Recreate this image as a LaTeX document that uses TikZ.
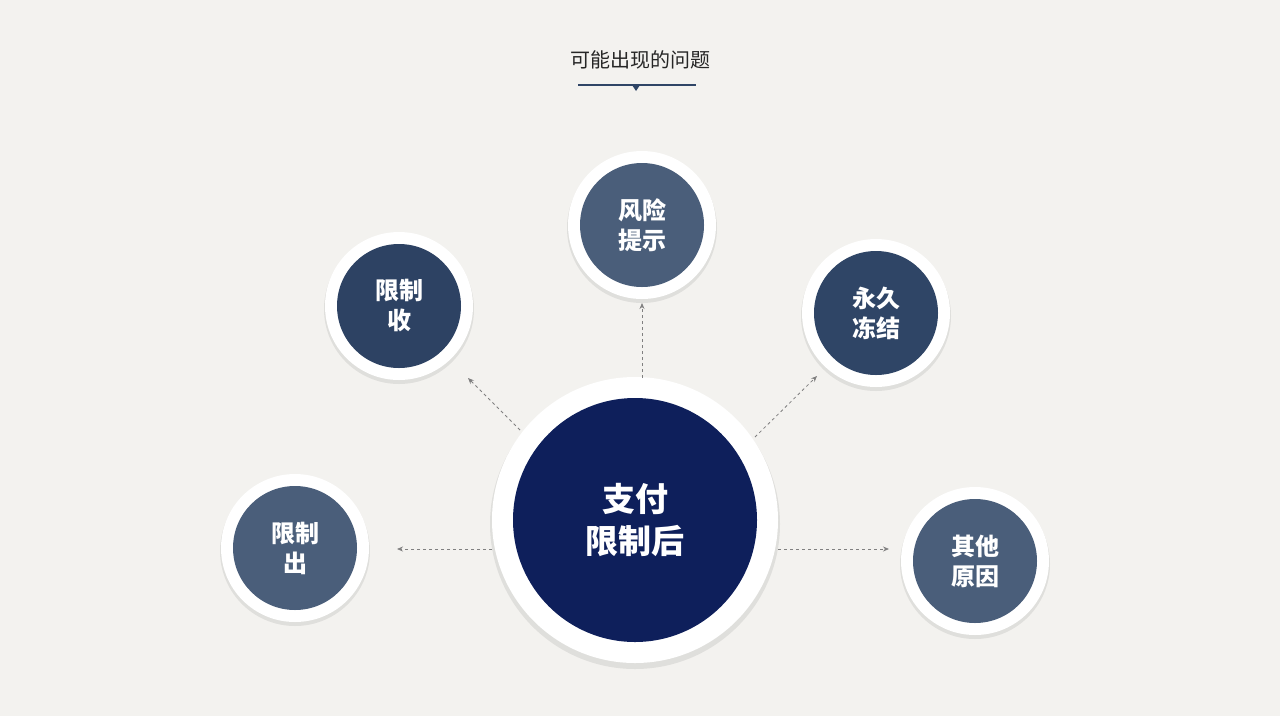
\documentclass[tikz,border=0pt]{standalone}
\usepackage{fontspec}
\setmainfont{Noto Sans CJK SC}
\newfontfamily\cjkb[BoldFont={* Bold}]{Noto Sans CJK SC}
\usetikzlibrary{arrows.meta}
\definecolor{bg}{HTML}{F3F2EF}
\definecolor{navy}{HTML}{0E1F5B}
\definecolor{dk}{HTML}{2D4263}
\definecolor{lt}{HTML}{4A5E7A}
\definecolor{ttl}{HTML}{2F4566}
\begin{document}
\begin{tikzpicture}[x=1pt,y=-1pt,
  ring/.style={circle,fill=white,minimum size=#1,inner sep=0pt,
    drop shadow={shadow xshift=0pt,shadow yshift=-2pt,opacity=0.25}},
  core/.style={circle,minimum size=#1,inner sep=0pt,text=white,align=center,font=\bfseries\fontsize{24}{30}\selectfont},
  arr/.style={draw=gray,dashed,line width=0.8pt,-{Stealth[length=6pt,width=5pt]}}]
\useasboundingbox[fill=bg] (0,0) rectangle (1280,716);
\node[font=\fontsize{20}{24}\selectfont,text=black!85] (title) at (640,60) {可能出现的问题};
\draw[ttl,line width=1.2pt] (578,85) -- (696,85);
\fill[ttl] (632,85) -- (640,85) -- (636,91) -- cycle;
% rings
\fill[black,opacity=0.08] (635,524) circle (145);
\node[circle,fill=white,minimum size=286pt,inner sep=0pt] (co) at (635,520) {};
\node[core=244pt,fill=navy,font=\bfseries\fontsize{33}{42}\selectfont] (c) at (635,520) {支付\\限制后};
\foreach \n/\x/\y/\col/\t in {a/399/306/dk/{限制收},b/642/225/lt/{风险提示},d/876/313/ttl/{永久冻结},e/295/548/lt/{限制出},f/975/561/lt/{其他原因}}{
  \fill[black,opacity=0.08] (\x,\y+3) circle (75);
  \node[circle,fill=white,minimum size=148pt,inner sep=0pt] (\n o) at (\x,\y) {};
}
\node[core=124pt,fill=dk] (a) at (399,306) {限制\\收};
\node[core=124pt,fill=lt] (b) at (642,225) {风险\\提示};
\node[core=124pt,fill=ttl] (d) at (876,313) {永久\\冻结};
\node[core=124pt,fill=lt] (e) at (295,548) {限制\\出};
\node[core=124pt,fill=lt] (f) at (975,561) {其他\\原因};
\coordinate (s1) at (642,378); \coordinate (t1) at (642,303);
\coordinate (s2) at (520,430); \coordinate (t2) at (468,378);
\coordinate (s3) at (755,437); \coordinate (t3) at (817,376);
\coordinate (s4) at (492,549); \coordinate (t4) at (397,549);
\coordinate (s5) at (778,549); \coordinate (t5) at (889,549);
\foreach \i in {1,...,5}{\draw[arr] (s\i) -- (t\i);}
\end{tikzpicture}
\end{document}
